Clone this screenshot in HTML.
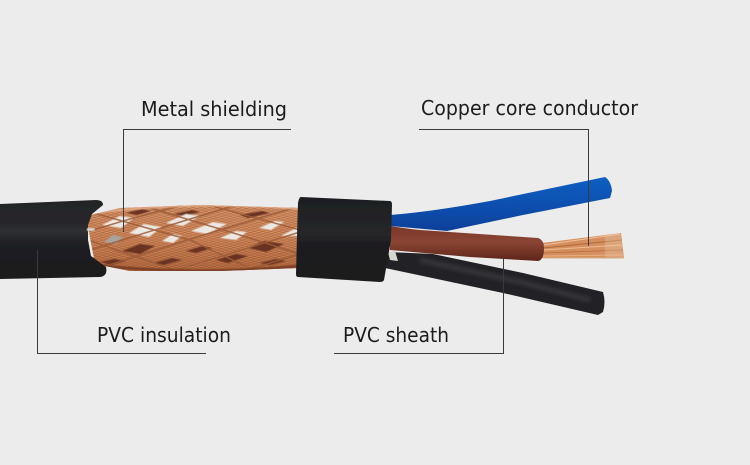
<!DOCTYPE html>
<html><head><meta charset="utf-8"><style>
html,body{margin:0;padding:0;background:#ececec;width:750px;height:465px;overflow:hidden}
svg{display:block}
text{font-family:"DejaVu Sans","Liberation Sans",sans-serif;font-size:20px;fill:#1c1c1c}
</style></head><body>
<svg width="750" height="465" viewBox="0 0 750 465" xmlns="http://www.w3.org/2000/svg">
<defs>
<linearGradient id="dark" x1="0" y1="0" x2="0" y2="1">
<stop offset="0" stop-color="#232427"/><stop offset=".3" stop-color="#27282b"/><stop offset=".4" stop-color="#2f3034"/><stop offset=".55" stop-color="#1f2022"/><stop offset="1" stop-color="#1a1b1d"/></linearGradient>
<linearGradient id="sleeve" x1="0" y1="0" x2="0" y2="1">
<stop offset="0" stop-color="#1d1e20"/><stop offset=".42" stop-color="#26272a"/><stop offset=".55" stop-color="#1d1e20"/><stop offset="1" stop-color="#1b1c1e"/></linearGradient>
<linearGradient id="blue" x1="0" y1="0" x2="0" y2="1">
<stop offset="0" stop-color="#0f5fc2"/><stop offset=".5" stop-color="#0c50b0"/><stop offset="1" stop-color="#0a3f98"/></linearGradient>
<linearGradient id="brown" x1="0" y1="0" x2="0" y2="1">
<stop offset="0" stop-color="#7a3729"/><stop offset=".45" stop-color="#8b4534"/><stop offset="1" stop-color="#5e241a"/></linearGradient>
<linearGradient id="cop" x1="0" y1="0" x2="0" y2="1">
<stop offset="0" stop-color="#d28f66"/><stop offset=".5" stop-color="#ca8054"/><stop offset="1" stop-color="#a4572f"/></linearGradient>
<pattern id="pa" width="4" height="2.400" patternUnits="userSpaceOnUse" patternTransform="rotate(-17)">
<rect y="0" width="4" height=".8" fill="#97552f" opacity=".4"/><rect y="1.300" width="4" height=".6" fill="#eeb48a" opacity=".25"/></pattern>
<pattern id="pb" width="4" height="2.400" patternUnits="userSpaceOnUse" patternTransform="rotate(17)">
<rect y="0" width="4" height=".8" fill="#97552f" opacity=".35"/><rect y="1.300" width="4" height=".6" fill="#eeb48a" opacity=".2"/></pattern>
<clipPath id="braid"><path d="M86 216 L120 208 L200 205 L300 208 L300 268 L220 271 L130 271 L95 264 Z"/></clipPath>
<filter id="b1"><feGaussianBlur stdDeviation=".6"/></filter>
<filter id="b2"><feGaussianBlur stdDeviation="2"/></filter>
<filter id="b0"><feGaussianBlur stdDeviation=".35"/></filter>
</defs>
<rect width="750" height="465" fill="#ececec"/>

<!-- braid -->
<g clip-path="url(#braid)">
<rect x="80" y="200" width="225" height="75" fill="url(#cop)"/>
<rect x="80" y="200" width="225" height="75" fill="url(#pa)"/>
<rect x="80" y="200" width="225" height="75" fill="url(#pb)"/>
<g filter="url(#b1)">
<g fill="#6a3320">
<path d="M126 213l16-4 9 2-14 4z"/><path d="M174 214l18-4 8 2-16 4z"/><path d="M240 215l22-4 8 2-22 5z"/>
<path d="M122 251l18-7 15 2-15 8z"/><path d="M186 251l16-5 10 2-16 5z"/><path d="M248 248l16-7 20 3-18 8z"/>
<path d="M100 262l14-3 12 2-14 4z"/><path d="M154 263l18-5 10 2-18 5z"/><path d="M216 260l20-6 12 2-20 7z"/><path d="M260 263l16-4 10 2-16 4z"/>
</g>
<g fill="#ece8e3">
<path d="M102 225l18-9 14 2-13 10z"/><path d="M129 233l15-9 18 3-13 10z"/>
<path d="M166 223l20-9 14 2-17 10z"/><path d="M191 231l22-9 14 2-20 10z"/>
<path d="M220 238l16-7 11 1-11 8z"/><path d="M259 228l16-7 9 1-13 8z"/><path d="M281 236l15-8 5 0 0 8z"/>
<path d="M104 242l9-7 10 2-7 7z" fill="#a8a39c"/><path d="M162 241l11-7 9 2-9 7z"/>
</g>
</g>
<g stroke="#9c5b38" stroke-width="1.500" fill="none" opacity=".85" filter="url(#b0)">
<path d="M86 232 L130 219 L186 204"/><path d="M90 250 L190 219 L240 204"/><path d="M100 268 L200 236 L300 206"/><path d="M170 272 L300 232"/><path d="M240 272 L300 254"/>
<path d="M90 212 L190 240 L258 272"/><path d="M140 205 L240 235 L300 254"/><path d="M205 204 L300 230"/><path d="M88 240 L180 272"/>
</g>
<path d="M86 214 Q190 200 300 209" stroke="#e2ab88" stroke-width="2" fill="none" filter="url(#b1)"/>
<path d="M95 265 Q190 276 300 266" stroke="#7d3f26" stroke-width="3" fill="none" filter="url(#b1)"/>
</g>

<!-- left cable -->
<g filter="url(#b0)">
<path d="M0 204 L96 200 Q103 200 103 205 L92 214 L88 225 L88 240 L91 256 L106 267 Q108 276 100 277 L0 279 Z" fill="url(#dark)"/>
</g>
<path d="M87 228h8l-1 3h-7z" fill="#d8d4cc" filter="url(#b1)"/>

<!-- blue wire -->
<path d="M390 215 Q430 212 490 201 L605 177 Q611 181 612 191 L610 198 L523 215 Q480 224 447 231 L390 226 Z" fill="url(#blue)" filter="url(#b0)"/>
<!-- black wire -->
<path d="M388 252 L433 254 L523 273 L603 292 Q606 302 603 312 L598 315 L503 293 L385 268 Z" fill="#222325" filter="url(#b0)"/>
<path d="M420 260 L520 282 L590 300" stroke="#3a3b3e" stroke-width="4" fill="none" filter="url(#b2)"/>
<!-- copper strands -->
<path d="M542 243 L621 233 L624 258 L542 258 Z" fill="#d58f5e" filter="url(#b0)"/>
<g stroke-width="1" fill="none">
<path d="M543 245 L620 234" stroke="#eec09a"/><path d="M543 248 L622 240" stroke="#b0683a"/><path d="M543 250 L622 245" stroke="#eebc90"/>
<path d="M543 253 L623 250" stroke="#bd7444"/><path d="M543 256 L623 255" stroke="#e8ae80"/>
<path d="M543 258 L624 258" stroke="#d8a884"/>
</g>
<path d="M605 234l16-1 3 25-19-1z" fill="#ecd4bc" opacity=".3" filter="url(#b1)"/>
<!-- brown wire -->
<path d="M390 226 Q410 229 420 230 L538 238 Q544 240 544 248 Q544 260 538 261 L470 257 L390 250 Z" fill="url(#brown)" filter="url(#b0)"/>
<path d="M388 252l7-1 3 10-8-1z" fill="#d8d6d0"/>

<!-- right sleeve -->
<path d="M301 197 L390 201 Q392 201 392 205 L391 240 L384 280 Q383 282 380 282 L298 277 Q296 277 296 274 L297 235 L298 203 Q299 197 301 197 Z" fill="url(#sleeve)" filter="url(#b0)"/>

<!-- leader lines -->
<g stroke="#3a3a3a" stroke-width="1" fill="none" shape-rendering="crispEdges">
<path d="M123.500 232V129.500H291"/>
<path d="M419 129.500H588.500V246"/>
<path d="M37.500 250V353.500H206"/>
<path d="M334 353.500H503.500V257"/>
</g>

<text x="141" y="116" textLength="146" lengthAdjust="spacingAndGlyphs">Metal shielding</text>
<text x="421" y="115" textLength="217" lengthAdjust="spacingAndGlyphs">Copper core conductor</text>
<text x="97" y="342" textLength="134" lengthAdjust="spacingAndGlyphs">PVC insulation</text>
<text x="343" y="342" textLength="106" lengthAdjust="spacingAndGlyphs">PVC sheath</text>
</svg>
</body></html>
